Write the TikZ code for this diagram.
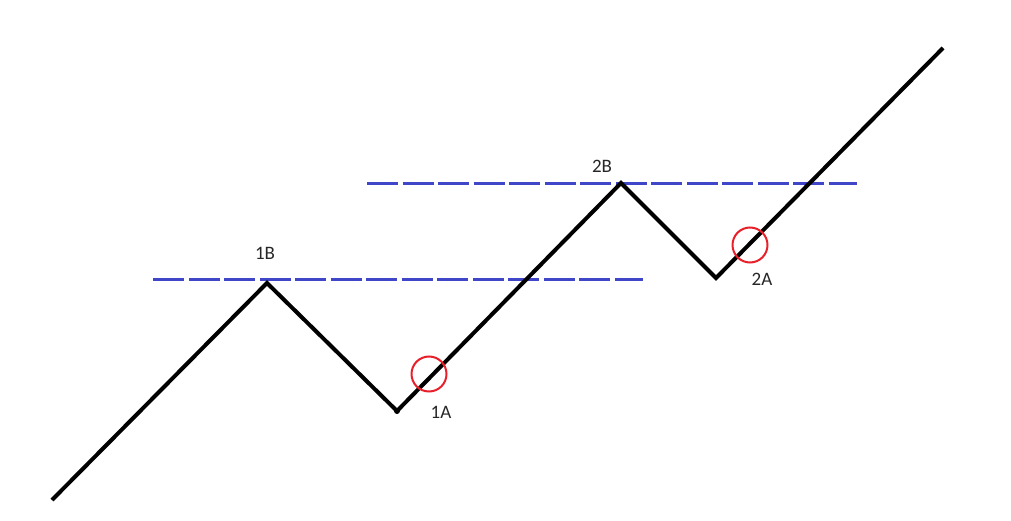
\documentclass[tikz,border=0pt]{standalone}
\usepackage{fontspec}
\setmainfont{Carlito}
\definecolor{dashblue}{HTML}{4046C8}
\definecolor{ringred}{HTML}{E8202A}
\begin{document}
\begin{tikzpicture}[x=1pt,y=-1pt,
  zig/.style={line width=4pt,black,line join=miter},
  level/.style={line width=3pt,dashblue,dash pattern=on 31pt off 4.5pt},
  ring/.style={circle,draw=ringred,line width=2pt,minimum size=35pt,inner sep=0pt},
  lbl/.style={font=\fontsize{19}{21}\selectfont,text=black!85,inner sep=0pt}]
\useasboundingbox (0,0) rectangle (1011,521);
\coordinate (p0) at (52,500);
\coordinate (p1) at (267,283);
\coordinate (p2) at (397,411);
\coordinate (p3) at (621,183);
\coordinate (p4) at (716,278);
\coordinate (p5) at (943,48);
\coordinate (l1a) at (153,279);
\coordinate (l1b) at (643,279);
\coordinate (l2a) at (367,184);
\coordinate (l2b) at (857,184);
\draw[level] (l1a) -- (l1b);
\draw[level] (l2a) -- (l2b);
\draw[zig] (p0) -- (p1) -- (p2) -- (p3) -- (p4) -- (p5);
\fill (p2) circle (3pt);
\node[ring] (c1) at (429,374) {};
\node[ring] (c2) at (750,245) {};
\node[lbl] (t1b) at (265,253) {1B};
\node[lbl] (t2b) at (602,166) {2B};
\node[lbl] (t1a) at (441,412) {1A};
\node[lbl] (t2a) at (762,279) {2A};
\end{tikzpicture}
\end{document}
